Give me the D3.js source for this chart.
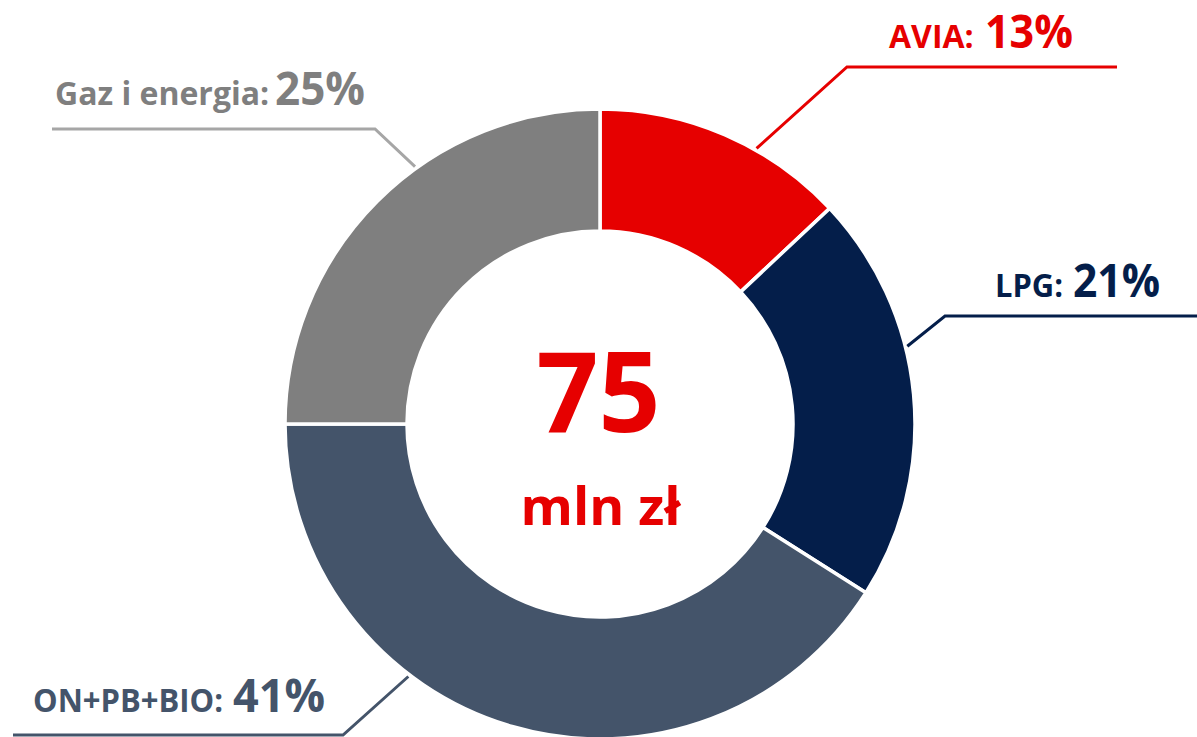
<!DOCTYPE html>
<html>
<head>
<meta charset="utf-8">
<script src="https://cdn.jsdelivr.net/npm/d3@7"></script>
<style>
  html, body { margin: 0; padding: 0; background: #ffffff; }
  svg { display: block; }
  text { font-family: "Open Sans", "Noto Sans", sans-serif; font-weight: 700; }
</style>
</head>
<body>
<svg id="chart" width="1197" height="737"></svg>
<script>
// Segment names, shares (%) and colours
const categories = ["AVIA", "LPG", "ON+PB+BIO", "Gaz i energia"];
const shares = [13, 21, 41, 25];
const sliceColors = ["#e60000", "#041e4a", "#44546a", "#7f7f7f"];
const lineColors = ["#e60000", "#041e4a", "#44546a", "#a6a6a6"];
const totalValue = "75";
const totalUnit = "mln zł";

// Label placement: angle where the leader touches the ring, elbow, and far end of the shelf
const labelLayout = [
  { angle: 29.6, elbow: [847, 67],  endX: 1117, textX: 889, baseY: 48,  nameW: 84,  valueX: 985,  valueW: 88 },
  { angle: 75.8, elbow: [945, 316], endX: 1197, textX: 995, baseY: 297, nameW: 68,  valueX: 1073, valueW: 87 },
  { angle: 217.2, elbow: [343, 735], endX: 13,  textX: 33,  baseY: 712, nameW: 190, valueX: 233,  valueW: 92 },
  { angle: 324.3, elbow: [375, 129], endX: 52,  textX: 55,  baseY: 105, nameW: 215, valueX: 275,  valueW: 90 }
];

const svg = d3.select("#chart");
const cx = 600, cy = 424, outerR = 315, innerR = 193;

const data = categories.map((c, i) => ({ name: c, value: shares[i], color: sliceColors[i], line: lineColors[i], layout: labelLayout[i] }));

const pie = d3.pie().sort(null).value(d => d.value).startAngle(0).endAngle(2 * Math.PI);
const arc = d3.arc().innerRadius(innerR).outerRadius(outerR);
const arcs = pie(data);

const g = svg.append("g").attr("transform", `translate(${cx},${cy})`);

// Leader lines (drawn under the ring)
const lines = svg.append("g");
arcs.forEach(a => {
  const L = a.data.layout;
  const rad = L.angle * Math.PI / 180;
  const r = outerR + 2;
  const start = [cx + Math.sin(rad) * r, cy - Math.cos(rad) * r];
  lines.append("polyline")
    .attr("points", [start, L.elbow, [L.endX, L.elbow[1]]].map(p => p.join(",")).join(" "))
    .attr("fill", "none")
    .attr("stroke", a.data.line)
    .attr("stroke-width", 3);
});

// Ring slices
g.selectAll("path.slice")
  .data(arcs)
  .join("path")
  .attr("class", "slice")
  .attr("d", arc)
  .attr("fill", d => d.data.color)
  .attr("stroke", "#ffffff")
  .attr("stroke-width", 3.5)
  .attr("stroke-linejoin", "miter");

// Fit a text element to a given advance width
function fit(sel, w) {
  const n = sel.node();
  const cur = n.getComputedTextLength();
  if (Math.abs(cur - w) > 1) sel.attr("textLength", w).attr("lengthAdjust", "spacingAndGlyphs");
}

// Segment labels
const labels = svg.append("g");
arcs.forEach(a => {
  const L = a.data.layout;
  const name = labels.append("text")
    .attr("x", L.textX).attr("y", L.baseY)
    .attr("font-size", 32)
    .attr("fill", a.data.color)
    .text(a.data.name + ":");
  fit(name, L.nameW);
  const val = labels.append("text")
    .attr("x", L.valueX).attr("y", L.baseY)
    .attr("font-size", 46)
    .attr("fill", a.data.color)
    .text(a.data.value + "%");
  fit(val, L.valueW);
});

// Centre total
const big = svg.append("text")
  .attr("x", 598.5).attr("y", 432)
  .attr("text-anchor", "middle")
  .attr("font-size", 112)
  .attr("fill", "#e60000")
  .text(totalValue);
fit(big, 124);
const unit = svg.append("text")
  .attr("x", 600.5).attr("y", 525)
  .attr("text-anchor", "middle")
  .attr("font-size", 52)
  .attr("fill", "#e60000")
  .text(totalUnit);
fit(unit, 160);
</script>
</body>
</html>
